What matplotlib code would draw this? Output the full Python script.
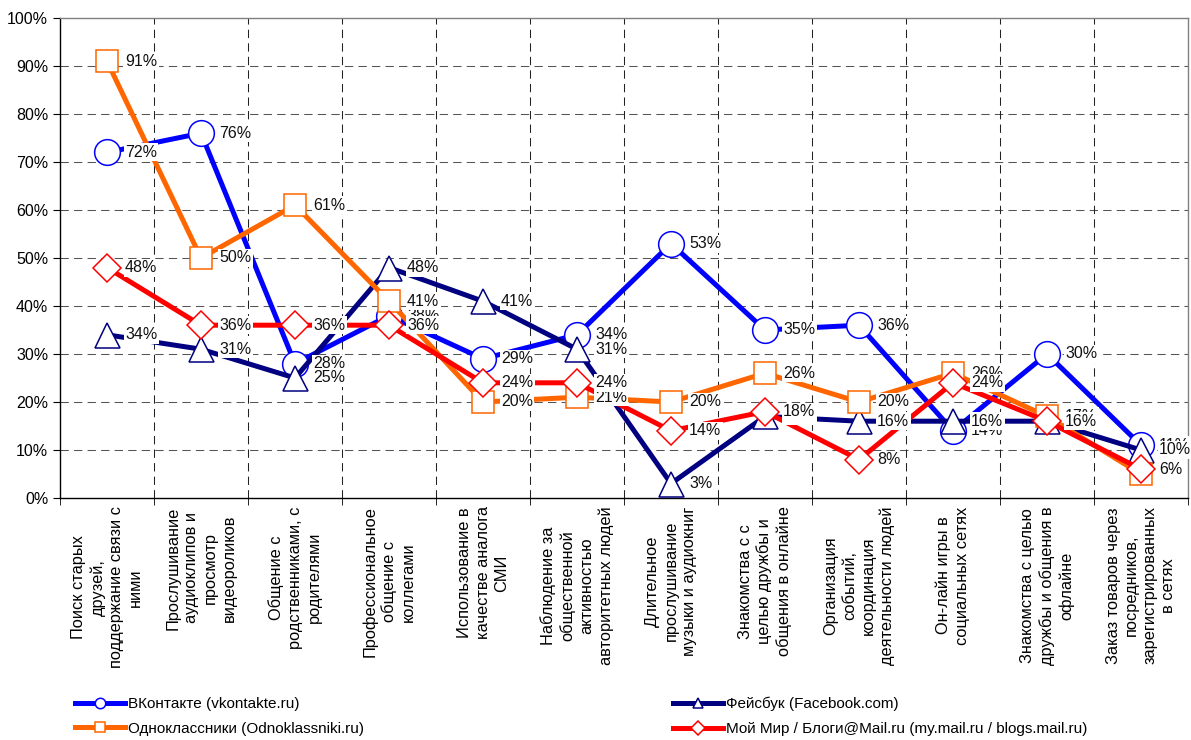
import numpy as np
import matplotlib
matplotlib.use('Agg')
import matplotlib.pyplot as plt
from matplotlib.lines import Line2D
from matplotlib.ticker import PercentFormatter

plt.rcParams['font.family'] = ['Liberation Sans', 'DejaVu Sans']

# categories (x axis), already wrapped like in the source chart
categories = [
    'Поиск старых\nдрузей,\nподдержание связи с\nними',
    'Прослушивание\nаудиоклипов и\nпросмотр\nвидеороликов',
    'Общение с\nродственниками, с\nродителями',
    'Профессиональное\nобщение с\nколлегами',
    'Использование в\nкачестве аналога\nСМИ',
    'Наблюдение за\nобщественной\nактивностью\nавторитетных людей',
    'Длительное\nпрослушивание\nмузыки и аудиокниг',
    'Знакомства с с\nцелью дружбы и\nобщения в онлайне',
    'Организация\nсобытий,\nкоординация\nдеятельности людей',
    'Он-лайн игры в\nсоциальных сетях',
    'Знакомства с целью\nдружбы и общения в\nофлайне',
    'Заказ товаров через\nпосредников,\nзарегистрированных\nв сетях',
]

# values in percent, one list per network
vk = [72, 76, 28, 38, 29, 34, 53, 35, 36, 14, 30, 11]
fb = [34, 31, 25, 48, 41, 31, 3, 17, 16, 16, 16, 10]
ok = [91, 50, 61, 41, 20, 21, 20, 26, 20, 26, 17, 5]
mm = [48, 36, 36, 36, 24, 24, 14, 18, 8, 24, 16, 6]

names = ['ВКонтакте (vkontakte.ru)', 'Фейсбук (Facebook.com)',
         'Одноклассники (Odnoklassniki.ru)', 'Мой Мир / Блоги@Mail.ru (my.mail.ru / blogs.mail.ru)']

# series styles: color, marker, marker size
styles = [
    ('#0000FF', 'o', 18.5),
    ('#000080', '^', 18),
    ('#FF6600', 's', 16),
    ('#FF0000', 'D', 14),
]

fig = plt.figure(figsize=(11.91, 7.40), dpi=100)
ax = fig.add_axes([60/1191, 242/740, 1128/1191, 480/740])

x = np.arange(1, len(categories) + 1)
series = [vk, fb, ok, mm]

# lines and markers first
for i, vals in enumerate(series):
    col, mk, ms = styles[i]
    y = np.array(vals) / 100.0
    ax.plot(x, y, color=col, lw=3.6, zorder=3 + i, solid_capstyle='butt')
    ax.plot(x, y, ls='none', marker=mk, ms=ms, mfc='white', mec=col, mew=1.1, zorder=3 + i)

# then data labels, later series cover the earlier ones
for i, vals in enumerate(series):
    for xi, v in zip(x, vals):
        ax.annotate(f'{v}%', (xi, v / 100.0), xytext=(13, 0), textcoords='offset points',
                    ha='left', va='center', fontsize=11.5, color='#111111', zorder=10 + i,
                    bbox=dict(facecolor='white', edgecolor='none', pad=1.0))

ax.set_xlim(0.5, len(categories) + 0.5)
ax.set_ylim(0, 1)
ax.set_yticks(np.arange(0, 1.01, 0.1))
ax.yaxis.set_major_formatter(PercentFormatter(1.0, decimals=0))

ax.set_xticks(x)
ax.set_xticklabels(categories, rotation=90, ha='center', va='top', multialignment='center',
                   fontsize=11.8, linespacing=1.3)
ax.set_xticks(np.arange(0.5, len(categories) + 1, 1.0), minor=True)
ax.tick_params(axis='x', which='major', length=0, pad=6)
ax.tick_params(axis='x', which='minor', length=5, direction='out', color='black')
ax.tick_params(axis='y', length=5, direction='out', labelsize=11.5, color='black')

# grid
for yy in np.arange(0.1, 1.0, 0.1):
    ax.axhline(yy, color='#555555', lw=0.75, dashes=(8, 5), zorder=1)
for xx in np.arange(1.5, len(categories), 1.0):
    ax.axvline(xx, color='#222222', lw=0.75, dashes=(8, 5), zorder=1)

ax.spines['left'].set_color('black')
ax.spines['bottom'].set_color('black')
ax.spines['top'].set_color('#808080')
ax.spines['right'].set_color('#808080')
for s in ax.spines.values():
    s.set_linewidth(1.0)

# legend in two columns below the chart
handles = []
for i in range(4):
    col, mk, ms = styles[i]
    handles.append(Line2D([], [], color=col, lw=3.6, marker=mk, ms=7.5, mfc='white', mec=col, mew=1.1))

leg_kw = dict(frameon=False, fontsize=11, handlelength=3.3, handletextpad=0.2,
              labelspacing=0.7, borderpad=0, borderaxespad=0, loc='upper left')
fig.legend([handles[0], handles[2]], [names[0], names[2]],
           bbox_to_anchor=(75/1191, 1 - 697/740), **leg_kw)
fig.legend([handles[1], handles[3]], [names[1], names[3]],
           bbox_to_anchor=(673/1191, 1 - 697/740), **leg_kw)

fig.savefig('out.png', dpi=100)
